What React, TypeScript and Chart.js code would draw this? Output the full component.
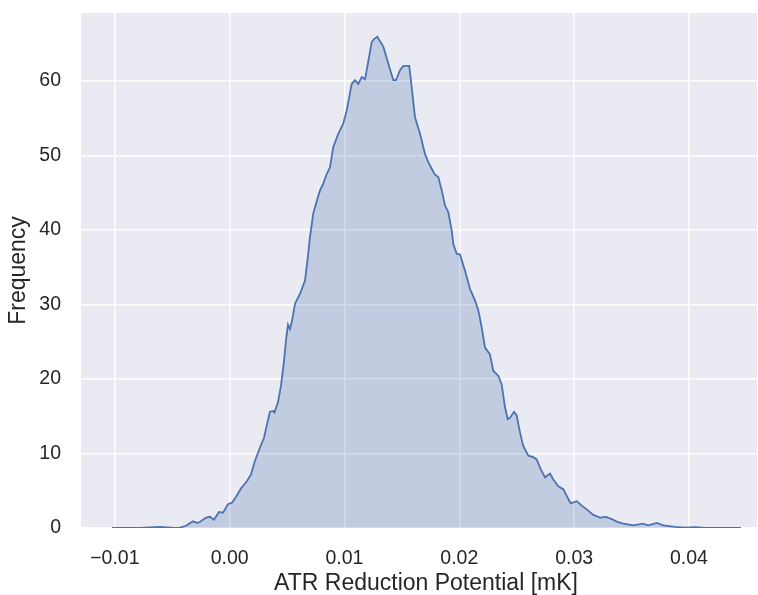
import React, { useEffect, useRef } from "react";
import { Chart, registerables } from "chart.js";

Chart.register(...registerables);

const xValues = [
  -0.01025, -0.0078, -0.00607, -0.0048, -0.00433, -0.00381, -0.0032, -0.00285, -0.00259, -0.00206,
  -0.00172, -0.00137, -0.00093, -0.00058, -0.00015, 0.0002, 0.00064, 0.00098, 0.00151, 0.00186,
  0.0022, 0.00264, 0.00299, 0.00325, 0.00351, 0.00377, 0.0039, 0.00421, 0.00447, 0.00473,
  0.0049, 0.00508, 0.00525, 0.00543, 0.00569, 0.00612, 0.00656, 0.00682, 0.00699, 0.00728,
  0.00761, 0.00787, 0.00815, 0.00845, 0.00874, 0.00902, 0.00946, 0.0099, 0.01019, 0.01063,
  0.01091, 0.0112, 0.0115, 0.01179, 0.01199, 0.01237, 0.01257, 0.01286, 0.01338, 0.01382,
  0.01425, 0.01449, 0.01483, 0.01512, 0.01564, 0.01585, 0.01614, 0.01658, 0.01701, 0.0173,
  0.0176, 0.01788, 0.01817, 0.01847, 0.01875, 0.01904, 0.01934, 0.01948, 0.01977, 0.02006,
  0.0205, 0.02093, 0.02137, 0.02166, 0.02195, 0.02224, 0.02267, 0.02296, 0.0234, 0.02369,
  0.02398, 0.02422, 0.02442, 0.02477, 0.025, 0.02529, 0.02557, 0.02601, 0.02645, 0.02674,
  0.02709, 0.02747, 0.0279, 0.02819, 0.02862, 0.02906, 0.02936, 0.0297, 0.03023, 0.03066,
  0.0311, 0.03167, 0.03226, 0.03278, 0.03328, 0.03371, 0.03429, 0.03516, 0.03598, 0.03646,
  0.0372, 0.03777, 0.03879, 0.03966, 0.04053, 0.0414, 0.04454,
];

const frequency = [
  0, 0.0, 0.15, 0.02, 0.05, 0.3, 0.9, 0.7, 0.8, 1.4,
  1.5, 1.1, 2.15, 2.05, 3.2, 3.4, 4.4, 5.3, 6.3, 7.2,
  9.0, 10.8, 12.1, 13.9, 15.6, 15.7, 15.5, 16.9, 19.1, 22.4,
  25.1, 27.3, 26.7, 27.8, 30.1, 31.4, 33.2, 36.5, 39.0, 42.2,
  44.0, 45.3, 46.2, 47.5, 48.4, 51.1, 52.9, 54.3, 56.0, 59.6,
  60.1, 59.6, 60.5, 60.2, 61.9, 65.2, 65.6, 65.9, 64.6, 62.3,
  60.1, 60.1, 61.4, 62.0, 62.0, 59.2, 55.1, 52.9, 50.2, 49.1,
  48.2, 47.4, 47.1, 45.3, 43.3, 42.4, 39.9, 38.1, 36.8, 36.7,
  34.5, 32.1, 30.5, 29.2, 26.9, 24.2, 23.3, 21.1, 20.4, 19.3,
  16.2, 14.6, 14.8, 15.6, 15.1, 12.8, 11.0, 9.7, 9.5, 9.2,
  7.9, 6.8, 7.3, 6.5, 5.6, 5.2, 4.3, 3.3, 3.6, 3.0,
  2.5, 1.75, 1.4, 1.5, 1.2, 0.85, 0.6, 0.35, 0.58, 0.35,
  0.67, 0.35, 0.15, 0.05, 0.12, 0.02, 0,
];

const xTicks = [-0.01, 0.0, 0.01, 0.02, 0.03, 0.04];
const yTicks = [0, 10, 20, 30, 40, 50, 60];

const xLabel = "ATR Reduction Potential [mK]";
const yLabel = "Frequency";

const FONT = "'Liberation Sans', Arial, sans-serif";
const TEXT = "#262626";

const bgPlugin = {
  id: "axbg",
  beforeDraw(chart: any) {
    const { ctx, chartArea } = chart;
    ctx.save();
    ctx.fillStyle = "#EAEAF2";
    ctx.fillRect(chartArea.left, chartArea.top, chartArea.right - chartArea.left, chartArea.bottom - chartArea.top);
    ctx.restore();
  },
};

const xTitlePlugin = {
  id: "xtitle",
  afterDraw(chart: any) {
    const { ctx } = chart;
    ctx.save();
    ctx.fillStyle = TEXT;
    ctx.font = `23px ${FONT}`;
    ctx.textAlign = "center";
    ctx.textBaseline = "alphabetic";
    ctx.fillText(xLabel, 426, 590);
    ctx.restore();
  },
};

function fmtX(v: number) {
  const s = (Math.round(v * 100) / 100).toFixed(2);
  return s.startsWith("-") ? "\u2212" + s.slice(1) : s;
}

export default function App() {
  const ref = useRef<HTMLCanvasElement | null>(null);
  useEffect(() => {
    if (!ref.current) return;
    const points = xValues.map((x, i) => ({ x, y: frequency[i] }));
    const chart = new Chart(ref.current, {
      type: "line",
      data: {
        datasets: [
          {
            data: points,
            borderColor: "#4C72B0",
            backgroundColor: "rgba(76,114,176,0.25)",
            borderWidth: 1.8,
            pointRadius: 0,
            fill: "origin",
            tension: 0,
          },
        ],
      },
      options: {
        responsive: false,
        animation: false,
        layout: { padding: { top: 13, right: 1, left: 0, bottom: 0 } },
        plugins: { legend: { display: false }, tooltip: { enabled: false } },
        scales: {
          x: {
            type: "linear",
            min: -0.01295,
            max: 0.04593,
            afterBuildTicks: (s: any) => {
              s.ticks = xTicks.map((v) => ({ value: v }));
            },
            afterFit: (s: any) => {
              s.height = 67;
              s.paddingLeft = 0;
              s.paddingRight = 0;
            },
            grid: { color: "#FFFFFF", lineWidth: 1.5, drawTicks: false },
            border: { display: false },
            ticks: {
              color: TEXT,
              font: { family: FONT, size: 19.5 },
              padding: 19,
              maxRotation: 0,
              callback: (v: any) => fmtX(Number(v)),
            },
            title: { display: false },
          },
          y: {
            type: "linear",
            min: 0,
            max: 69.1,
            afterBuildTicks: (s: any) => {
              s.ticks = yTicks.map((v) => ({ value: v }));
            },
            afterFit: (s: any) => {
              s.width = 81;
              s.paddingTop = 0;
              s.paddingBottom = 0;
            },
            grid: { color: "#FFFFFF", lineWidth: 1.5, drawTicks: false },
            border: { display: false },
            ticks: {
              color: TEXT,
              font: { family: FONT, size: 19.5 },
              padding: 20,
              callback: (v: any) => String(v),
            },
            title: {
              display: true,
              text: yLabel,
              color: TEXT,
              font: { family: FONT, size: 23 },
              padding: { top: 5, bottom: 0 },
            },
          },
        },
      },
      plugins: [bgPlugin, xTitlePlugin],
    });
    return () => chart.destroy();
  }, []);
  return (
    <div style={{ position: "fixed", left: 0, top: 0, width: 758, height: 595, background: "#fff" }}>
      <canvas ref={ref} width={758} height={595} />
    </div>
  );
}
